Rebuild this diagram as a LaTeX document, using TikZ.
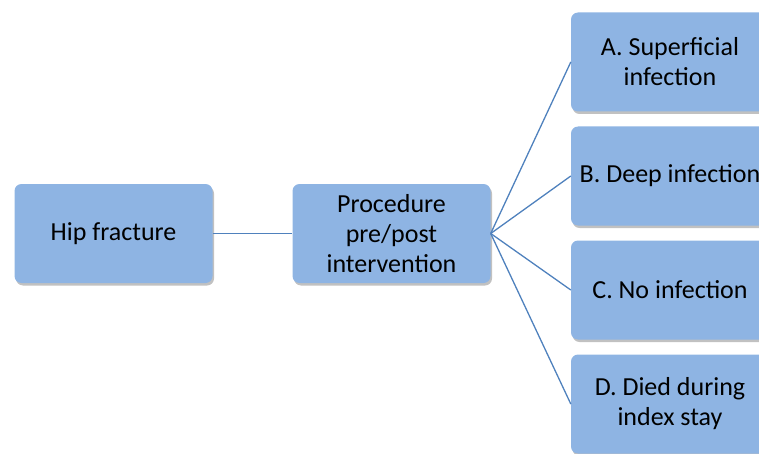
\documentclass[tikz,border=0pt]{standalone}
\usepackage{fontspec}
\setmainfont{Carlito}
\usetikzlibrary{shadows}
\definecolor{boxfill}{HTML}{8EB4E3}
\definecolor{linec}{HTML}{4F81BD}
\begin{document}
\begin{tikzpicture}[x=1pt,y=1pt,
  bx/.style={rectangle, rounded corners=7pt, fill=boxfill, minimum width=198pt, minimum height=99pt,
    align=center, font=\fontsize{26}{30}\selectfont, inner sep=0pt,
    drop shadow={shadow xshift=1.5pt, shadow yshift=-2.5pt, opacity=0.35, fill=black!70}},
  conn/.style={draw=linec, line width=1.3pt}]
\useasboundingbox (0,0) rectangle (759,453);
\clip (0,0) rectangle (759,453);
\node[bx] (hip) at (113.5,219.5) {Hip fracture};
\node[bx] (proc) at (391.5,219.5) {Procedure\\pre/post\\intervention};
\node[bx] (a) at (670,391) {A. Superficial\\infection};
\node[bx] (b) at (670,277) {B. Deep infection};
\node[bx] (c) at (670,163) {C. No infection};
\node[bx] (d) at (670,49) {D. Died during\\index stay};
\draw[conn] (hip.east) -- (proc.west);
\draw[conn] (proc.east) -- (a.west);
\draw[conn] (proc.east) -- (b.west);
\draw[conn] (proc.east) -- (c.west);
\draw[conn] (proc.east) -- (d.west);
\end{tikzpicture}
\end{document}
